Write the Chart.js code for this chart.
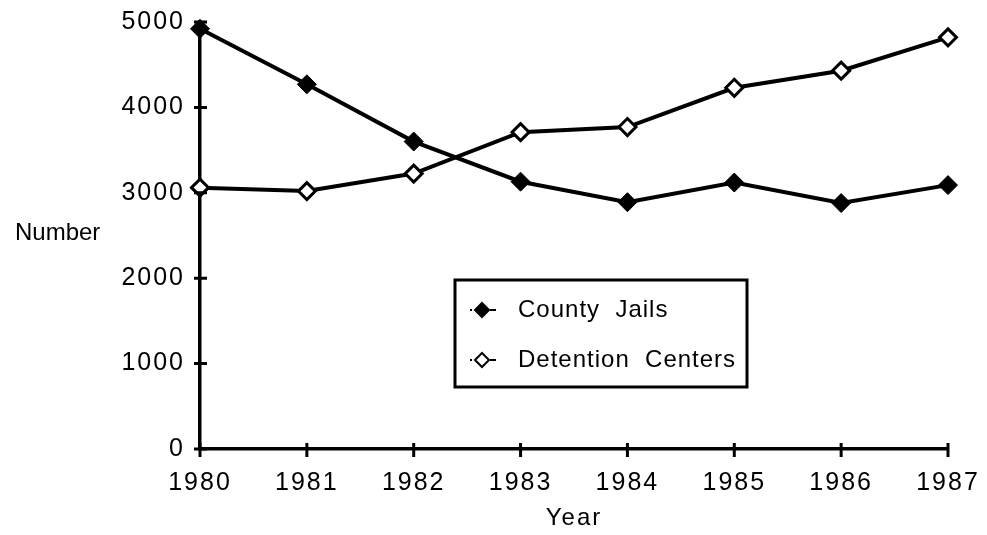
<!DOCTYPE html>
<html>
<head>
<meta charset="utf-8">
<script src="https://cdn.jsdelivr.net/npm/chart.js@4/dist/chart.umd.min.js"></script>
<style>
  html, body { margin: 0; padding: 0; background: #fff; }
  #wrap { width: 987px; height: 535px; }
</style>
</head>
<body>
<div id="wrap"><canvas id="line_chart"></canvas></div>
<script>
const years = ["1980", "1981", "1982", "1983", "1984", "1985", "1986", "1987"];
const countyJails = [4920, 4270, 3600, 3130, 2890, 3120, 2880, 3090];
const detentionCenters = [3060, 3020, 3225, 3710, 3770, 4230, 4430, 4820];
const yTicks = [0, 1000, 2000, 3000, 4000, 5000];

const FONT = "'Liberation Sans', Arial, Helvetica, sans-serif";

// letter spacing gets reset whenever the canvas is resized, so set it each pass
const spacingPlugin = {
  id: "spacing",
  beforeUpdate(chart) { chart.ctx.letterSpacing = "2px"; },
  beforeDraw(chart) { chart.ctx.letterSpacing = "2px"; },
};

// axis tick marks that cross the axis line, like the printed chart
const crossTicks = {
  id: "crossTicks",
  afterDatasetsDraw(chart) {
    const ctx = chart.ctx;
    const x = chart.scales.x;
    const y = chart.scales.y;
    ctx.save();
    ctx.strokeStyle = "#000";
    ctx.lineWidth = 3;
    ctx.beginPath();
    y.ticks.forEach((t, i) => {
      const py = y.getPixelForTick(i);
      ctx.moveTo(x.left - 6, py);
      ctx.lineTo(x.left + 7, py);
    });
    x.ticks.forEach((t, i) => {
      const px = x.getPixelForTick(i);
      ctx.moveTo(px, y.bottom - 6);
      ctx.lineTo(px, y.bottom + 8);
    });
    ctx.stroke();
    ctx.restore();
  }
};

// "Number" label and the boxed legend
const labelsAndLegend = {
  id: "labelsAndLegend",
  afterDraw(chart) {
    const ctx = chart.ctx;
    const area = chart.chartArea;
    ctx.save();
    ctx.letterSpacing = "0px";
    ctx.fillStyle = "#000";
    ctx.font = "24px " + FONT;
    ctx.textAlign = "left";
    ctx.textBaseline = "middle";
    ctx.fillText("Number", 15, 233);

    // legend box
    const bx = area.left + 255, by = 280, bw = 292, bh = 107;
    ctx.strokeStyle = "#000";
    ctx.lineWidth = 3;
    ctx.strokeRect(bx, by, bw, bh);

    const items = [
      { text: "County  Jails", fill: "#000", y: by + 30 },
      { text: "Detention  Centers", fill: "#fff", y: by + 80 },
    ];
    ctx.letterSpacing = "1px";
    items.forEach(item => {
      const mx = bx + 27;
      ctx.strokeStyle = "#000";
      ctx.lineWidth = 2;
      ctx.beginPath();
      ctx.moveTo(bx + 15, item.y);
      ctx.lineTo(bx + 17, item.y);
      ctx.moveTo(bx + 35, item.y);
      ctx.lineTo(bx + 41, item.y);
      ctx.stroke();
      ctx.fillStyle = item.fill;
      ctx.beginPath();
      ctx.moveTo(mx, item.y - 7);
      ctx.lineTo(mx + 7, item.y);
      ctx.lineTo(mx, item.y + 7);
      ctx.lineTo(mx - 7, item.y);
      ctx.closePath();
      ctx.fill();
      ctx.stroke();
      ctx.fillStyle = "#000";
      ctx.fillText(item.text, bx + 63, item.y);
    });
    ctx.restore();
  }
};

const lineChartCanvas = document.getElementById("line_chart").getContext("2d");

new Chart(lineChartCanvas, {
  type: "line",
  data: {
    labels: years,
    datasets: [
      {
        label: "County Jails",
        data: countyJails,
        borderColor: "#000",
        borderWidth: 4,
        backgroundColor: "#000",
        pointStyle: "rectRot",
        pointRadius: 9.5,
        pointBorderWidth: 1,
        pointBorderColor: "#000",
        pointBackgroundColor: "#000",
        tension: 0,
        clip: false,
      },
      {
        label: "Detention Centers",
        data: detentionCenters,
        borderColor: "#000",
        borderWidth: 4,
        backgroundColor: "#fff",
        pointStyle: "rectRot",
        pointRadius: 8.5,
        pointBorderWidth: 3,
        pointBorderColor: "#000",
        pointBackgroundColor: "#fff",
        tension: 0,
        clip: false,
      }
    ]
  },
  options: {
    responsive: true,
    maintainAspectRatio: false,
    animation: false,
    events: [],
    layout: { padding: { top: 10, right: 39, left: 0, bottom: 0 } },
    plugins: {
      legend: { display: false },
      tooltip: { enabled: false },
    },
    scales: {
      x: {
        type: "category",
        offset: false,
        grid: { display: false },
        border: { display: true, color: "#000", width: 3.5 },
        ticks: {
          color: "#000",
          font: { family: FONT, size: 25 },
          padding: 11,
          maxRotation: 0,
          autoSkip: false,
        },
        title: {
          display: true,
          text: "Year",
          color: "#000",
          font: { family: FONT, size: 24 },
          padding: { top: 0, bottom: 2 },
        },
        afterFit(scale) {
          scale.height = 86;
          scale.paddingLeft = 0;
          scale.paddingRight = 0;
        },
      },
      y: {
        min: 0,
        max: 5000,
        grid: { display: false },
        border: { display: true, color: "#000", width: 3.5 },
        afterBuildTicks(scale) { scale.ticks = yTicks.map(v => ({ value: v })); },
        ticks: {
          color: "#000",
          font: { family: FONT, size: 25 },
          padding: 7,
          callback: value => String(value),
        },
        afterFit(scale) { scale.width = 200; },
      }
    }
  },
  plugins: [spacingPlugin, crossTicks, labelsAndLegend]
});
</script>
</body>
</html>
